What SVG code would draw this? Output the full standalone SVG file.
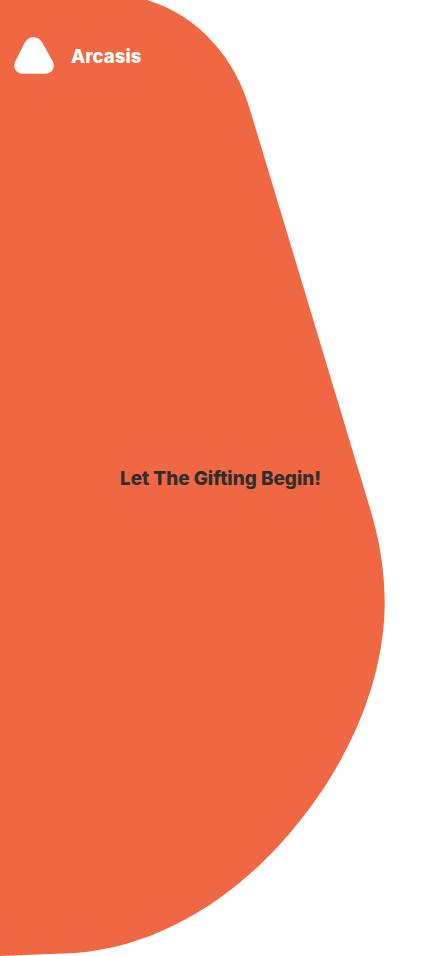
<svg xmlns="http://www.w3.org/2000/svg" width="442" height="956" viewBox="0 0 442 956">
<style>
.t{font-family:"Inter","Liberation Sans",sans-serif;font-weight:800}
</style>
<rect width="442" height="956" fill="#ffffff"/>
<path id="blob" fill="#ef6743" d="M0 0H147C197 15 236 57 251 113L372 515C379 540 385 570 384.700 607C383 680 352 760 290 833C240 892 165 946 75 953L0 956Z"/>
<g id="logo">
<path fill="#ffffff" d="M24.500 43C29 35 38 35 42.500 43L52 60C56.500 67 52 73.700 45 73.700H23C16 73.700 11.500 67 16 60Z"/>
<text class="t" x="71" y="63" font-size="18.600" fill="#ffffff">Arcasis</text>
</g>
<g id="headline">
<text class="t" x="120" y="485" font-size="18.900" fill="#2e2e2e">Let The Gifting Begin!</text>
</g>
</svg>
